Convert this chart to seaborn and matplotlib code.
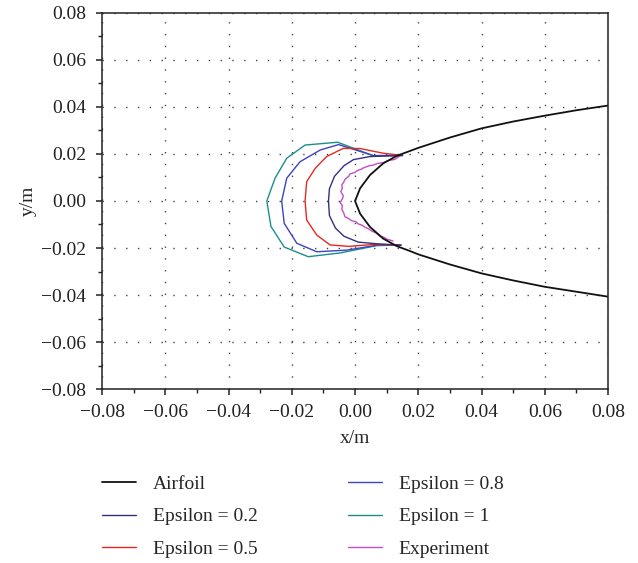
import numpy as np
import pandas as pd
import matplotlib
matplotlib.use("Agg")
import matplotlib.pyplot as plt
import seaborn as sns
from matplotlib.ticker import MultipleLocator

# ---------------- data ----------------
airfoil_x = [0.08, 0.07, 0.06, 0.05, 0.04, 0.03, 0.02, 0.0174, 0.0132, 0.0089, 0.0047, 0.0016, 0.0,
             0.0016, 0.0047, 0.0089, 0.0132, 0.0174, 0.02, 0.03, 0.04, 0.05, 0.06, 0.07, 0.08]
airfoil_y = [-0.0407, -0.0386, -0.0365, -0.0338, -0.0308, -0.0270, -0.0227, -0.0213, -0.0192, -0.0160,
             -0.0110, -0.0054, 0.0, 0.0054, 0.0110, 0.0160, 0.0192, 0.0213, 0.0226, 0.0270, 0.0309,
             0.0338, 0.0363, 0.0386, 0.0406]

eps02_x = [0.0150, 0.0047, -0.0005, -0.0035, -0.0065, -0.0081, -0.0084, -0.0081, -0.0062, -0.0035,
           0.0010, 0.0069, 0.0145]
eps02_y = [0.0194, 0.0189, 0.0176, 0.0150, 0.0105, 0.0052, 0.0, -0.0062, -0.0115, -0.0150,
           -0.0175, -0.0182, -0.0188]

eps05_x = [0.0150, 0.0090, 0.0016, -0.0037, -0.0090, -0.0126, -0.0153, -0.0158, -0.0153, -0.0121,
           -0.0079, -0.0020, 0.0060, 0.0145]
eps05_y = [0.0194, 0.0203, 0.0223, 0.0224, 0.0189, 0.0139, 0.0082, 0.0, -0.0081, -0.0145,
           -0.0187, -0.0193, -0.0185, -0.0188]

eps08_x = [0.0150, 0.0058, -0.0052, -0.0110, -0.0174, -0.0216, -0.0232, -0.0224, -0.0184, -0.0121,
           -0.0026, 0.0079, 0.0145]
eps08_y = [0.0194, 0.0193, 0.0240, 0.0217, 0.0167, 0.0097, 0.0, -0.0095, -0.0180, -0.0216,
           -0.0209, -0.0186, -0.0188]

eps1_x = [0.0150, 0.0057, -0.0055, -0.0158, -0.0216, -0.0253, -0.0279, -0.0266, -0.0224, -0.0148,
          -0.0047, 0.0068, 0.0145]
eps1_y = [0.0193, 0.0193, 0.0250, 0.0238, 0.0182, 0.0097, 0.0, -0.0108, -0.0196, -0.0237,
          -0.0221, -0.0190, -0.0187]

exp_x = [0.0140, 0.0126, 0.0105, 0.0089, 0.0072, 0.0058, 0.0045, 0.0037, 0.0025, 0.0021, 0.0008,
         0.0, -0.0016, -0.0020, -0.0032, -0.0035, -0.0042, -0.0040, -0.0045, -0.0037, -0.0040,
         -0.0047, -0.0040, -0.0042, -0.0036, -0.0032, -0.0020, -0.0011, 0.0002, 0.0011, 0.0022,
         0.0032, 0.0042, 0.0053, 0.0065, 0.0079, 0.0092, 0.0102, 0.0120]
exp_y = [0.0190, 0.0177, 0.0172, 0.0163, 0.0160, 0.0153, 0.0150, 0.0146, 0.0140, 0.0136, 0.0130,
         0.0122, 0.0115, 0.0105, 0.0092, 0.0082, 0.0068, 0.0055, 0.0040, 0.0022, 0.0010,
         -0.0007, -0.0020, -0.0035, -0.0050, -0.0067, -0.0075, -0.0084, -0.0088, -0.0098, -0.0103,
         -0.0112, -0.0118, -0.0128, -0.0135, -0.0149, -0.0155, -0.0163, -0.0170]

series_labels = ["Airfoil", "Epsilon = 0.2", "Epsilon = 0.5", "Epsilon = 0.8", "Epsilon = 1", "Experiment"]
series_colors = ["#111111", "#35307e", "#e8281e", "#3c44c0", "#1b8e8c", "#c64cc4"]
ticks = [-0.08, -0.06, -0.04, -0.02, 0.0, 0.02, 0.04, 0.06, 0.08]

# ---------------- build table ----------------
xs = [airfoil_x, eps02_x, eps05_x, eps08_x, eps1_x, exp_x]
ys = [airfoil_y, eps02_y, eps05_y, eps08_y, eps1_y, exp_y]
frames = []
for lab, x, y in zip(series_labels, xs, ys):
    frames.append(pd.DataFrame({"x": x, "y": y, "series": lab, "order": np.arange(len(x))}))
df = pd.concat(frames, ignore_index=True)

# ---------------- style ----------------
sns.set_style("ticks")
plt.rcParams["font.family"] = ["Liberation Serif", "DejaVu Serif"]
plt.rcParams["axes.unicode_minus"] = True
FS = 14

fig = plt.figure(figsize=(6.38, 5.63), dpi=100)
ax = fig.add_axes([0.160, 0.309, 0.793, 0.668])

palette = dict(zip(series_labels, series_colors))
for lab in series_labels[::-1]:
    sub = df[df["series"] == lab]
    sns.lineplot(data=sub, x="x", y="y", sort=False, estimator=None, color=palette[lab],
                 lw=1.3 if lab == "Airfoil" else 1.0, ax=ax, label=lab)

ax.set_xlim(-0.08, 0.08)
ax.set_ylim(-0.08, 0.08)
ax.set_xticks(ticks)
ax.set_yticks(ticks)
fmt = lambda t: "0.00" if abs(t) < 1e-9 else f"{t:.2f}".replace("-", "\u2212")
ax.set_xticklabels([fmt(t) for t in ticks])
ax.set_yticklabels([fmt(t) for t in ticks])
ax.xaxis.set_minor_locator(MultipleLocator(0.01))
ax.yaxis.set_minor_locator(MultipleLocator(0.01))
ax.tick_params(axis="both", which="major", direction="out", length=4.5, width=1.1, labelsize=FS,
               colors="#222222")
ax.tick_params(axis="y", which="major", pad=7)
ax.tick_params(axis="x", which="major", pad=6)
ax.tick_params(axis="both", which="minor", direction="out", length=3, width=1.0, colors="#222222")
for s in ax.spines.values():
    s.set_linewidth(1.1)
    s.set_color("#222222")
ax.grid(True, which="major", color="#444444", linestyle=(0, (1, 7.5)), linewidth=1.0)
ax.set_axisbelow(True)
ax.set_xlabel("x/m", fontsize=FS, labelpad=7)
ax.set_ylabel("y/m", fontsize=FS, labelpad=3)

ax.get_legend().remove()
handles, labels = ax.get_legend_handles_labels()
hmap = dict(zip(labels, handles))
common = dict(loc="upper left", frameon=False, fontsize=FS, handlelength=1.75, handletextpad=0.85,
              labelspacing=0.78, borderaxespad=0, borderpad=0)
fig.legend([hmap[l] for l in series_labels[:3]], series_labels[:3],
           bbox_to_anchor=(102 / 638, 1 - 475 / 563), **common)
fig.legend([hmap[l] for l in series_labels[3:]], series_labels[3:],
           bbox_to_anchor=(348 / 638, 1 - 475 / 563), **common)

fig.savefig("out.png", dpi=100)
